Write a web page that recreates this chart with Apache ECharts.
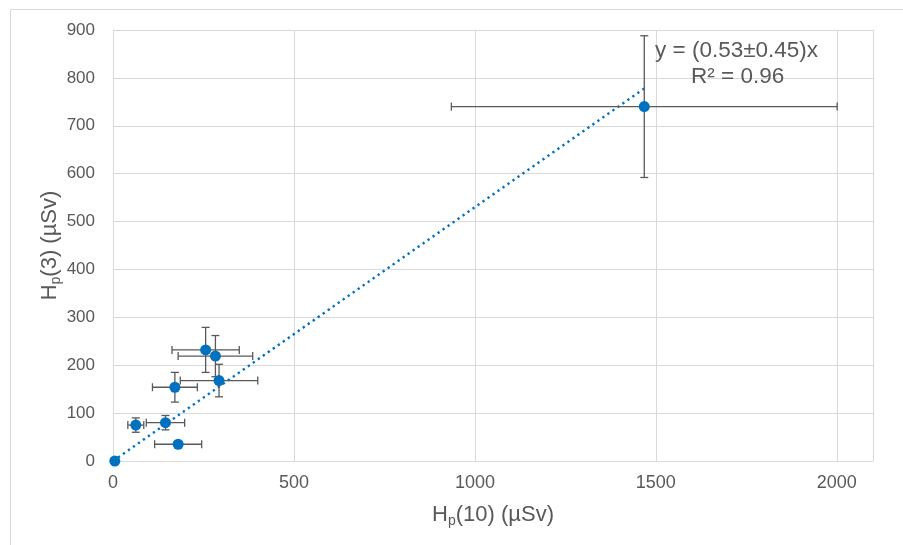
<!DOCTYPE html>
<html><head><meta charset="utf-8">
<script src="https://cdn.jsdelivr.net/npm/echarts@6/dist/echarts.min.js"></script>
<style>html,body{margin:0;padding:0;background:#fff}#c{width:903px;height:545px}</style>
</head><body><div id="c"></div>
<script>
// Data
const xVals = [5, 63, 145, 180, 171, 256, 283, 293, 1468];
const yVals = [0, 75, 80, 35, 154, 232, 219, 168, 740];
const xErr  = [0, 22, 53, 65, 62, 93, 103, 107, 533];
const yErr  = [0, 15, 15, 0, 31, 47, 43, 34, 148];
const slope = 0.53;
const xTicks = [0, 500, 1000, 1500, 2000];
const yTicks = [0, 100, 200, 300, 400, 500, 600, 700, 800, 900];
const eqLines = ['y = (0.53±0.45)x', 'R² = 0.96'];

const font = 'Liberation Sans, Arial, sans-serif';
const txt = '#595959';
const chart = echarts.init(document.getElementById('c'));
const pts = xVals.map((x, i) => [x, yVals[i]]);
const errData = xVals.map((x, i) => [x, yVals[i], xErr[i], yErr[i]]);
const xMaxData = Math.max(...xVals);
const nameRich = {
  a: {fontSize: 22, color: txt, fontFamily: font},
  b: {fontSize: 14, color: txt, fontFamily: font, padding: [12, 0, 0, 0]}
};

chart.setOption({
  animation: false,
  backgroundColor: '#fff',
  grid: {left: 113, right: 30, top: 30, bottom: 84},
  xAxis: {
    type: 'value', min: 0, max: 2100, interval: 500,
    axisLine: {show: true, lineStyle: {color: '#d9d9d9'}},
    axisTick: {show: false},
    splitLine: {show: true, lineStyle: {color: '#d9d9d9', width: 1}},
    axisLabel: {color: txt, fontSize: 18, fontFamily: font, margin: 13,
      formatter: v => xTicks.includes(v) ? String(v) : ''},
    name: '{a|H}{b|p}{a|(10) (µSv)}', nameLocation: 'middle', nameGap: 41,
    nameTextStyle: {rich: nameRich}
  },
  yAxis: {
    type: 'value', min: 0, max: 900, interval: 100,
    axisLine: {show: true, lineStyle: {color: '#d9d9d9'}},
    axisTick: {show: false},
    splitLine: {show: true, lineStyle: {color: '#d9d9d9', width: 1}},
    axisLabel: {color: txt, fontSize: 17, fontFamily: font, margin: 18,
      formatter: v => yTicks.includes(v) ? String(v) : ''},
    name: '{a|H}{b|p}{a|(3) (µSv)}', nameLocation: 'middle', nameGap: 50,
    nameMoveOverlap: false,
    nameTextStyle: {rich: nameRich}
  },
  graphic: [
    {type: 'rect', shape: {x: 10.5, y: 9.5, width: 900, height: 540},
     style: {fill: 'none', stroke: '#d9d9d9', lineWidth: 1}, silent: true, z: -10},
    {type: 'text', left: 655, top: 39, z: 100, style: {text: eqLines[0], font: '22.5px ' + font, fill: txt}},
    {type: 'text', left: 691, top: 65, z: 100, style: {text: eqLines[1], font: '22.5px ' + font, fill: txt}}
  ],
  series: [
    {
      type: 'line', data: [[0, 0], [xMaxData, slope * xMaxData]],
      symbol: 'none', lineStyle: {color: '#0070C0', width: 2.4, type: [2.3, 3.8], cap: 'butt'}, z: 2
    },
    {
      type: 'custom', z: 3,
      data: errData,
      renderItem: (params, api) => {
        const x = api.value(0), y = api.value(1), ex = api.value(2), ey = api.value(3);
        const c = api.coord([x, y]);
        const children = [];
        const st = {stroke: '#595959', lineWidth: 1.3};
        const cap = 4;
        if (ex > 0) {
          const l = api.coord([x - ex, y]), r = api.coord([x + ex, y]);
          children.push({type: 'line', shape: {x1: l[0], y1: c[1], x2: r[0], y2: c[1]}, style: st});
          children.push({type: 'line', shape: {x1: l[0], y1: c[1] - cap, x2: l[0], y2: c[1] + cap}, style: st});
          children.push({type: 'line', shape: {x1: r[0], y1: c[1] - cap, x2: r[0], y2: c[1] + cap}, style: st});
        }
        if (ey > 0) {
          const t = api.coord([x, y + ey]), b = api.coord([x, y - ey]);
          children.push({type: 'line', shape: {x1: c[0], y1: t[1], x2: c[0], y2: b[1]}, style: st});
          children.push({type: 'line', shape: {x1: c[0] - cap, y1: t[1], x2: c[0] + cap, y2: t[1]}, style: st});
          children.push({type: 'line', shape: {x1: c[0] - cap, y1: b[1], x2: c[0] + cap, y2: b[1]}, style: st});
        }
        return {type: 'group', children};
      }
    },
    {
      type: 'scatter', data: pts, symbol: 'circle', symbolSize: 11, z: 4,
      itemStyle: {color: '#0070C0', opacity: 1}
    }
  ]
});
</script></body></html>
